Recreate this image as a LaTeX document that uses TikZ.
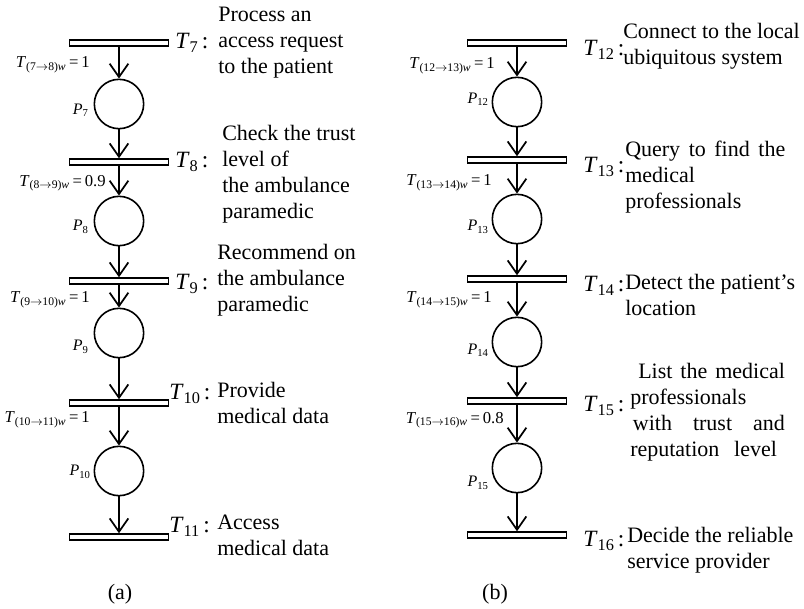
\documentclass[tikz,border=0pt]{standalone}
\usepackage{fontspec}
\setmainfont{Liberation Serif}
\usetikzlibrary{arrows.meta}

\tikzset{
  trans/.style={draw, line width=1.1pt, minimum width=74pt, minimum height=4.5pt, inner sep=0pt},
  place/.style={draw, circle, line width=1.2pt, minimum size=37pt, inner sep=0pt},
  arc/.style={line width=1.3pt, -{Straight Barb[length=10pt,width=14pt]}},
  tname/.style={font=\fontsize{17.5}{21}\selectfont, inner sep=0pt, anchor=west},
  pname/.style={font=\fontsize{12}{14}\selectfont, inner sep=0pt, anchor=east},
  weight/.style={font=\fontsize{12.5}{14}\selectfont, inner sep=0pt, anchor=east},
  desc/.style={font=\fontsize{16.5}{19.5}\selectfont, align=left, inner sep=0pt, anchor=west},
  caption/.style={font=\fontsize{16.5}{19.5}\selectfont, inner sep=0pt}
}
\newcommand{\tlab}[1]{\textit{T}\textsubscript{#1}\kern2.5pt:}
\newcommand{\plab}[1]{\textit{P}\textsubscript{#1}}
\newcommand{\wlab}[3]{\textit{T}\textsubscript{(#1$\rightarrow$#2)\textit{w}}\,=\,#3}
\newcommand{\spread}[2]{\makebox[#1][s]{#2}}

\begin{document}
\begin{tikzpicture}[x=0.75pt, y=-0.75pt]
\useasboundingbox (0,0) rectangle (804,608);

% (a) access to the patient data
\node[trans] (t7) at (119,43) {};
\node[place] (p7) at (119,104) {};
\node[trans] (t8) at (119,162) {};
\node[place] (p8) at (119,221) {};
\node[trans] (t9) at (119,281) {};
\node[place] (p9) at (119,333) {};
\node[trans] (t10) at (119,403) {};
\node[place] (p10) at (119,471) {};
\node[trans] (t11) at (119,537) {};

\draw[arc] (t7) -- (p7);
\draw[arc] (p7) -- (t8);
\draw[arc] (t8) -- (p8);
\draw[arc] (p8) -- (t9);
\draw[arc] (t9) -- (p9);
\draw[arc] (p9) -- (t10);
\draw[arc] (t10) -- (p10);
\draw[arc] (p10) -- (t11);

\node[tname] (n7) at (175,43) {\tlab{7}};
\node[tname] (n8) at (175,162) {\tlab{8}};
\node[tname] (n9) at (175,284) {\tlab{9}};
\node[tname] (n10) at (169,394) {\tlab{10}};
\node[tname] (n11) at (169,527) {\tlab{11}};

\node[desc] (d7) at (218,43) {Process an\\access request\\to the patient};
\node[desc] (d8) at (222,174) {Check the trust\\level of\\the ambulance\\paramedic};
\node[desc] (d9) at (217,280) {Recommend on\\the ambulance\\paramedic};
\node[desc] (d10) at (217,403) {Provide\\medical data};
\node[desc] (d11) at (217,535) {Access\\medical data};

\node[weight] (w7) at (90,65) {\wlab{7}{8}{1}};
\node[weight] (w8) at (106,183) {\wlab{8}{9}{0.9}};
\node[weight] (w9) at (90,300) {\wlab{9}{10}{1}};
\node[weight] (w10) at (90,420) {\wlab{10}{11}{1}};

\node[pname] (l7) at (89,110) {\plab{7}};
\node[pname] (l8) at (89,227) {\plab{8}};
\node[pname] (l9) at (89,347) {\plab{9}};
\node[pname] (l10) at (91,472) {\plab{10}};

\node[caption] (capa) at (120,594) {(a)};

% (b) finding a medical professional
\node[trans] (t12) at (517,43) {};
\node[place] (p12) at (517,102) {};
\node[trans] (t13) at (517,160) {};
\node[place] (p13) at (517,219) {};
\node[trans] (t14) at (517,279) {};
\node[place] (p14) at (517,342) {};
\node[trans] (t15) at (517,401) {};
\node[place] (p15) at (517,468) {};
\node[trans] (t16) at (517,535) {};

\draw[arc] (t12) -- (p12);
\draw[arc] (p12) -- (t13);
\draw[arc] (t13) -- (p13);
\draw[arc] (p13) -- (t14);
\draw[arc] (t14) -- (p14);
\draw[arc] (p14) -- (t15);
\draw[arc] (t15) -- (p15);
\draw[arc] (p15) -- (t16);

\node[tname] (n12) at (583,50) {\tlab{12}};
\node[tname] (n13) at (583,167) {\tlab{13}};
\node[tname] (n14) at (583,286) {\tlab{14}};
\node[tname] (n15) at (583,406) {\tlab{15}};
\node[tname] (n16) at (583,541) {\tlab{16}};

\node[desc] (d12) at (623,46) {Connect to the local\\ubiquitous system};
\node[desc] (d13) at (625,177) {\spread{120pt}{Query to find the}\\medical\\professionals};
\node[desc] (d14) at (625,295) {Detect the patient’s\\location};
\node[desc] (d15) at (630,412) {\spread{116pt}{\hspace*{6pt}List the medical}\\professionals\\\spread{116pt}{\hspace*{2pt}with trust and}\\\spread{110pt}{reputation level}};
\node[desc] (d16) at (627,550) {Decide the reliable\\service provider};

\node[weight] (w12) at (495,66) {\wlab{12}{13}{1}};
\node[weight] (w13) at (492,183) {\wlab{13}{14}{1}};
\node[weight] (w14) at (492,300) {\wlab{14}{15}{1}};
\node[weight] (w15) at (504,420) {\wlab{15}{16}{0.8}};

\node[pname] (l12) at (489,99) {\plab{12}};
\node[pname] (l13) at (489,227) {\plab{13}};
\node[pname] (l14) at (489,350) {\plab{14}};
\node[pname] (l15) at (489,483) {\plab{15}};

\node[caption] (capb) at (495,594) {(b)};
\end{tikzpicture}
\end{document}
